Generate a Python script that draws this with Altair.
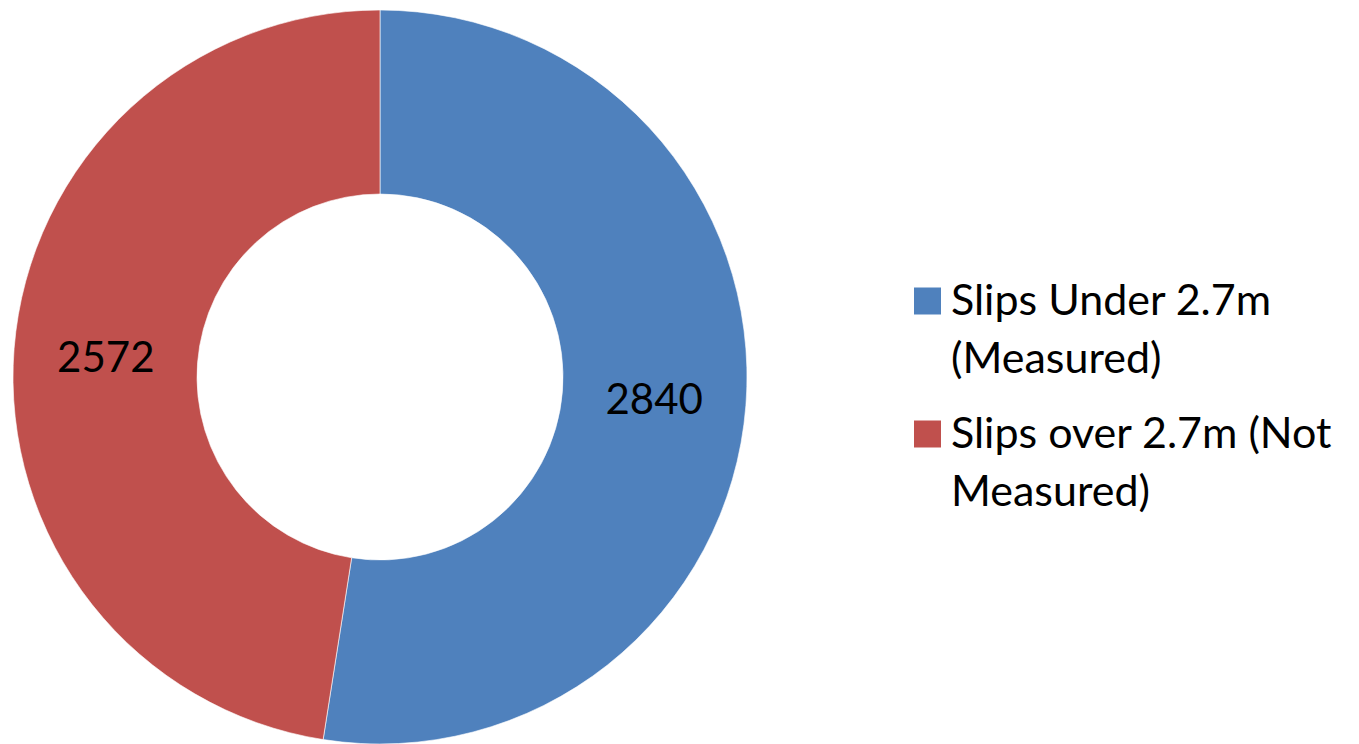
import json
import altair as alt
import pandas as pd

categories = ["Slips Under 2.7m (Measured)", "Slips over 2.7m (Not Measured)"]
values = [2840, 2572]
colors = ["#4F81BD", "#C0504D"]
legend_lines = [["Slips Under 2.7m", "(Measured)"], ["Slips over 2.7m (Not", "Measured)"]]

df = pd.DataFrame({"category": categories, "value": values, "order": list(range(len(categories)))})

label_expr = " : ".join(
    f"datum.label === {json.dumps(c)} ? {json.dumps(l)}" for c, l in zip(categories[:-1], legend_lines[:-1])
) + f" : {json.dumps(legend_lines[-1])}"

FONT = "Lato"

base = alt.Chart(df).encode(
    theta=alt.Theta("value:Q", stack=True),
    order=alt.Order("order:Q"),
)

arcs = base.mark_arc(outerRadius=367, innerRadius=183, stroke="#ffffff", strokeWidth=0.6).encode(
    color=alt.Color(
        "category:N",
        scale=alt.Scale(domain=categories, range=colors),
        sort=categories,
        legend=alt.Legend(
            title=None,
            orient="none",
            legendX=898,
            legendY=284,
            padding=0,
            symbolType="M-1,-2H1V0H-1Z",
            symbolSize=729,
            symbolStrokeWidth=0,
            symbolOpacity=1,
            labelFont=FONT,
            labelFontSize=43,
            labelColor="#000000",
            labelLimit=600,
            labelOffset=2,
            labelBaseline="alphabetic",
            labelExpr=label_expr,
            rowPadding=31,
        ),
    )
)

texts = base.mark_text(radius=275, font=FONT, fontSize=42, color="#000000", dy=3).encode(
    text=alt.Text("value:Q", format="d")
)

chart = (
    alt.layer(arcs, texts)
    .properties(width=744, height=736, padding=0)
    .configure(style={"guide-label": {"lineHeight": 58}})
    .configure_view(stroke=None)
)

chart.save("out.html", embed_options={"renderer": "svg", "actions": False})
